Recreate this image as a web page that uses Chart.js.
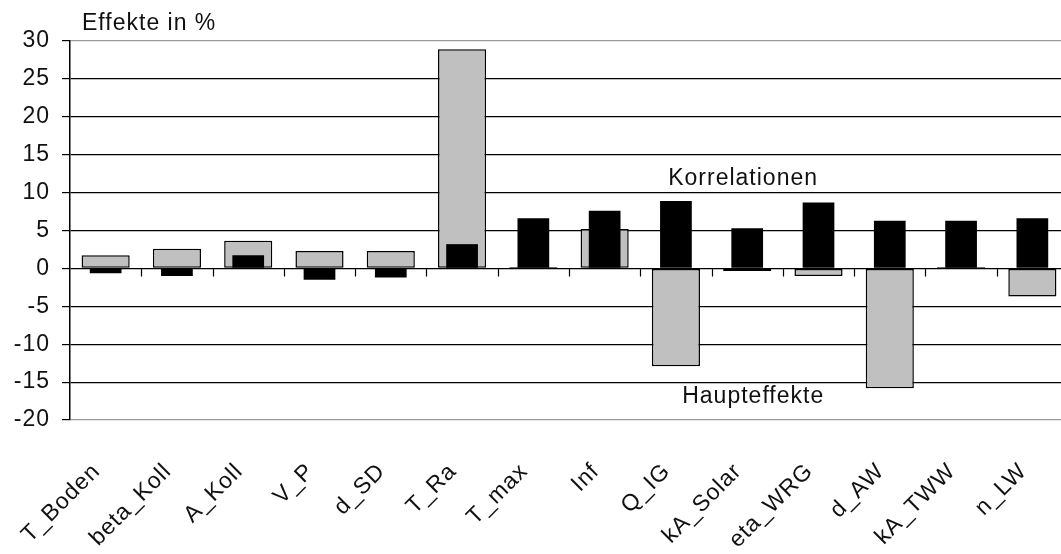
<!DOCTYPE html>
<html>
<head>
<meta charset="utf-8">
<script src="https://cdn.jsdelivr.net/npm/chart.js@4/dist/chart.umd.min.js"></script>
<style>
  html, body { margin: 0; padding: 0; background: #fff; overflow: hidden; }
  #wrap { position: absolute; left: 0; top: 0; width: 1068px; height: 554px; }
</style>
</head>
<body>
<div id="wrap"><canvas id="effekte"></canvas></div>
<script>
// Parameter names along the x axis
const parameters = ["T_Boden", "beta_Koll", "A_Koll", "V_P", "d_SD", "T_Ra", "T_max",
  "Inf", "Q_IG", "kA_Solar", "eta_WRG", "d_AW", "kA_TWW", "n_LW"];

// Main effects (grey, wide bars), in %
const hauptEffekte = [1.75, 2.6, 3.65, 2.3, 2.3, 28.9, 0.2, 5.2, -12.9, -0.35, -1.0, -15.8, 0.2, -3.7];

// Correlations (black, narrow bars), in %
const korrelationen = [-0.65, -1.0, 1.75, -1.5, -1.2, 3.2, 6.6, 7.6, 8.9, 5.3, 8.7, 6.3, 6.3, 6.6];

// Value axis range
const yMin = -20;
const yMax = 30;
const yStep = 5;

const FONT = "'Liberation Sans', Arial, sans-serif";
const FONT_SIZE = 23;
const SPACING = "1px";

// Wider glyph spacing for every label the chart draws
const letterSpacing = {
  id: "letterSpacing",
  beforeLayout(chart) { chart.ctx.letterSpacing = SPACING; },
  beforeDraw(chart) { chart.ctx.letterSpacing = SPACING; },
};

// Small tick marks on the zero line between categories
const zeroTicks = {
  id: "zeroTicks",
  afterDatasetsDraw(chart) {
    const { ctx, scales: { x, y } } = chart;
    const y0 = Math.round(y.getPixelForValue(0)) + 0.5;
    const half = (x.getPixelForValue(1) - x.getPixelForValue(0)) / 2;
    ctx.save();
    ctx.strokeStyle = "#000";
    ctx.lineWidth = 1.2;
    ctx.beginPath();
    for (let i = 0; i < parameters.length; i++) {
      const px = Math.round(x.getPixelForValue(i) + half) + 0.5;
      ctx.moveTo(px, y0);
      ctx.lineTo(px, y0 + 8);
    }
    ctx.stroke();
    ctx.restore();
  },
};

// Axis title and series captions
const captions = {
  id: "captions",
  afterDraw(chart) {
    const { ctx, chartArea, scales: { x, y } } = chart;
    ctx.save();
    ctx.letterSpacing = SPACING;
    ctx.font = FONT_SIZE + "px " + FONT;
    ctx.fillStyle = "#111";
    ctx.textBaseline = "middle";
    ctx.textAlign = "left";

    ctx.fillText("Effekte in %", chartArea.left + 12, 24);

    const kx = x.getPixelForValue(9);
    ctx.fillText("Korrelationen", kx - 79, y.getPixelForValue(11.8));
    ctx.fillText("Haupteffekte", kx - 65, y.getPixelForValue(-16.9));
    ctx.restore();
  },
};

new Chart(document.getElementById("effekte"), {
  type: "bar",
  data: {
    labels: parameters,
    datasets: [
      {
        label: "Haupteffekte",
        data: hauptEffekte,
        backgroundColor: "#c0c0c0",
        borderColor: "#000",
        borderWidth: 1.5,
        borderSkipped: false,
        barPercentage: 0.675,
        categoryPercentage: 1,
        grouped: false,
        order: 2,
      },
      {
        label: "Korrelationen",
        data: korrelationen,
        backgroundColor: "#000",
        borderWidth: 0,
        barPercentage: 0.445,
        categoryPercentage: 1,
        grouped: false,
        order: 1,
      },
    ],
  },
  options: {
    responsive: true,
    maintainAspectRatio: false,
    animation: false,
    devicePixelRatio: 1,
    layout: { padding: { top: 41, right: 0, left: 0, bottom: 0 } },
    plugins: {
      legend: { display: false },
      tooltip: { enabled: false },
      title: { display: false },
    },
    scales: {
      y: {
        min: yMin,
        max: yMax,
        afterFit(scale) { scale.width = 70; },
        ticks: {
          stepSize: yStep,
          padding: 12,
          color: "#111",
          font: { family: FONT, size: FONT_SIZE },
        },
        grid: {
          color: (c) => (c.tick && (c.tick.value === yMax || c.tick.value === yMin)) ? "#9a9a9a" : "#000",
          lineWidth: 1.2,
          tickLength: 8,
          tickColor: "#000",
        },
        border: { color: "#000", width: 1.5 },
      },
      x: {
        afterFit(scale) {
          scale.height = 134;
          scale.paddingLeft = 0;
          scale.paddingRight = 0;
        },
        grid: { display: false },
        border: { display: false },
        ticks: {
          autoSkip: false,
          maxRotation: 45,
          minRotation: 45,
          padding: 30,
          labelOffset: -9,
          color: "#111",
          font: { family: FONT, size: FONT_SIZE },
        },
      },
    },
  },
  plugins: [letterSpacing, zeroTicks, captions],
});
</script>
</body>
</html>
